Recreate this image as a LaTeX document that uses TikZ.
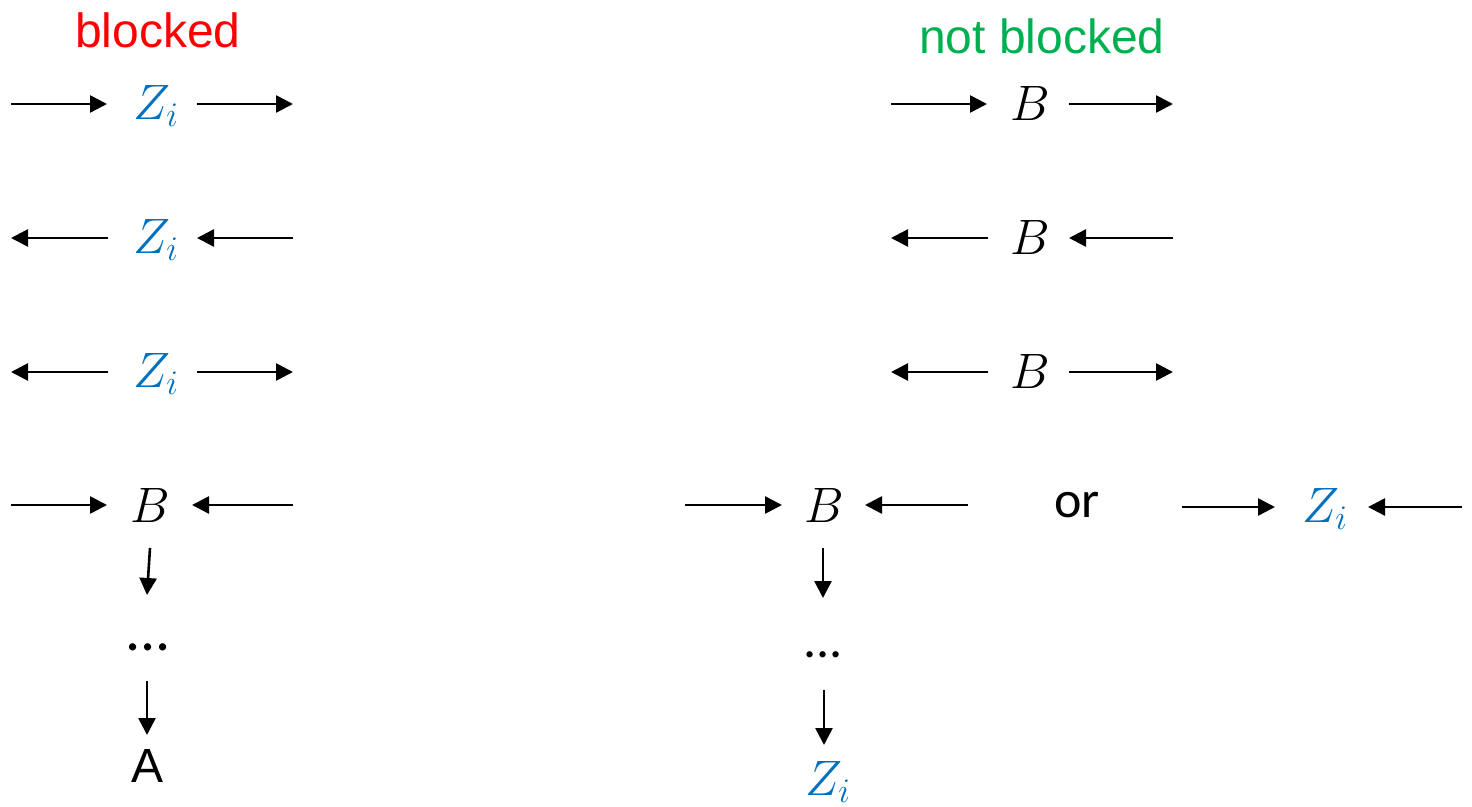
\documentclass[tikz,border=0pt]{standalone}
\usepackage{fontspec}
\setmainfont{Liberation Sans}
\newfontfamily\calfont{Carlito}
\usetikzlibrary{arrows.meta}
\definecolor{zblue}{HTML}{0070C0}
\definecolor{okgreen}{HTML}{00B050}
\definecolor{badred}{HTML}{FF0000}
\begin{document}
\begin{tikzpicture}[x=0.5pt,y=-0.5pt,
  arr/.style={-{Triangle[length=8.5pt,width=8.5pt]},line width=1.3pt,black},
  var/.style={inner sep=0pt,font=\fontsize{25}{30}\selectfont},
  zvar/.style={var,text=zblue},
  lbl/.style={inner sep=0pt,font=\fontsize{24}{28}\selectfont},
  cal/.style={inner sep=0pt,font=\calfont\fontsize{26}{30}\selectfont}]
\useasboundingbox (0,0) rectangle (1472,807);

% ---------- left: blocked ----------
\node[lbl,text=badred] (tl) at (158,30) {blocked};

\node[zvar] (lz1) at (156,106) {$Z_i$};
\coordinate (l1a) at (11,104); \coordinate (l1b) at (107,104);
\coordinate (l1c) at (197,104); \coordinate (l1d) at (293,104);
\draw[arr] (l1a) -- (l1b);
\draw[arr] (l1c) -- (l1d);

\node[zvar] (lz2) at (156,240) {$Z_i$};
\coordinate (l2a) at (11,238); \coordinate (l2b) at (108,238);
\coordinate (l2c) at (197,238); \coordinate (l2d) at (293,238);
\draw[arr] (l2b) -- (l2a);
\draw[arr] (l2d) -- (l2c);

\node[zvar] (lz3) at (156,374) {$Z_i$};
\coordinate (l3a) at (11,372); \coordinate (l3b) at (108,372);
\coordinate (l3c) at (197,372); \coordinate (l3d) at (293,372);
\draw[arr] (l3b) -- (l3a);
\draw[arr] (l3c) -- (l3d);

\node[var] (lb) at (150,505) {$B$};
\coordinate (l4a) at (11,505); \coordinate (l4b) at (107,505);
\coordinate (l4c) at (192,505); \coordinate (l4d) at (293,505);
\draw[arr] (l4a) -- (l4b);
\draw[arr] (l4d) -- (l4c);

\node[cal,font=\calfont\fontsize{30}{34}\selectfont] (ldots) at (148,647) {...};
\node[lbl] (lA) at (148,766) {A};
\coordinate (l5a) at (150,548); \coordinate (l5b) at (147,595);
\coordinate (l6a) at (147,681); \coordinate (l6b) at (147,735);
\draw[arr] (l5a) -- (l5b);
\draw[arr] (l6a) -- (l6b);

% ---------- right: not blocked ----------
\node[lbl,text=okgreen] (tr) at (1042,36) {not blocked};

\node[var] (rb1) at (1030,104) {$B$};
\coordinate (r1a) at (891,104); \coordinate (r1b) at (987,104);
\coordinate (r1c) at (1069,104); \coordinate (r1d) at (1173,104);
\draw[arr] (r1a) -- (r1b);
\draw[arr] (r1c) -- (r1d);

\node[var] (rb2) at (1030,238) {$B$};
\coordinate (r2a) at (891,238); \coordinate (r2b) at (988,238);
\coordinate (r2c) at (1069,238); \coordinate (r2d) at (1173,238);
\draw[arr] (r2b) -- (r2a);
\draw[arr] (r2d) -- (r2c);

\node[var] (rb3) at (1030,372) {$B$};
\coordinate (r3a) at (891,372); \coordinate (r3b) at (988,372);
\coordinate (r3c) at (1069,372); \coordinate (r3d) at (1173,372);
\draw[arr] (r3b) -- (r3a);
\draw[arr] (r3c) -- (r3d);

\node[var] (rb4) at (824,505) {$B$};
\coordinate (r4a) at (685,505); \coordinate (r4b) at (782,505);
\coordinate (r4c) at (865,505); \coordinate (r4d) at (968,505);
\draw[arr] (r4a) -- (r4b);
\draw[arr] (r4d) -- (r4c);

\node[cal] (ror) at (1077,505) {or};

\node[zvar] (rz4) at (1325,509) {$Z_i$};
\coordinate (r5a) at (1182,507); \coordinate (r5b) at (1275,507);
\coordinate (r5c) at (1368,507); \coordinate (r5d) at (1462,507);
\draw[arr] (r5a) -- (r5b);
\draw[arr] (r5d) -- (r5c);

\node[cal] (rdots) at (823,655) {...};
\node[zvar] (rz5) at (828,782) {$Z_i$};
\coordinate (r6a) at (823,548); \coordinate (r6b) at (823,598);
\coordinate (r7a) at (824,690); \coordinate (r7b) at (824,745);
\draw[arr] (r6a) -- (r6b);
\draw[arr] (r7a) -- (r7b);
\end{tikzpicture}
\end{document}
